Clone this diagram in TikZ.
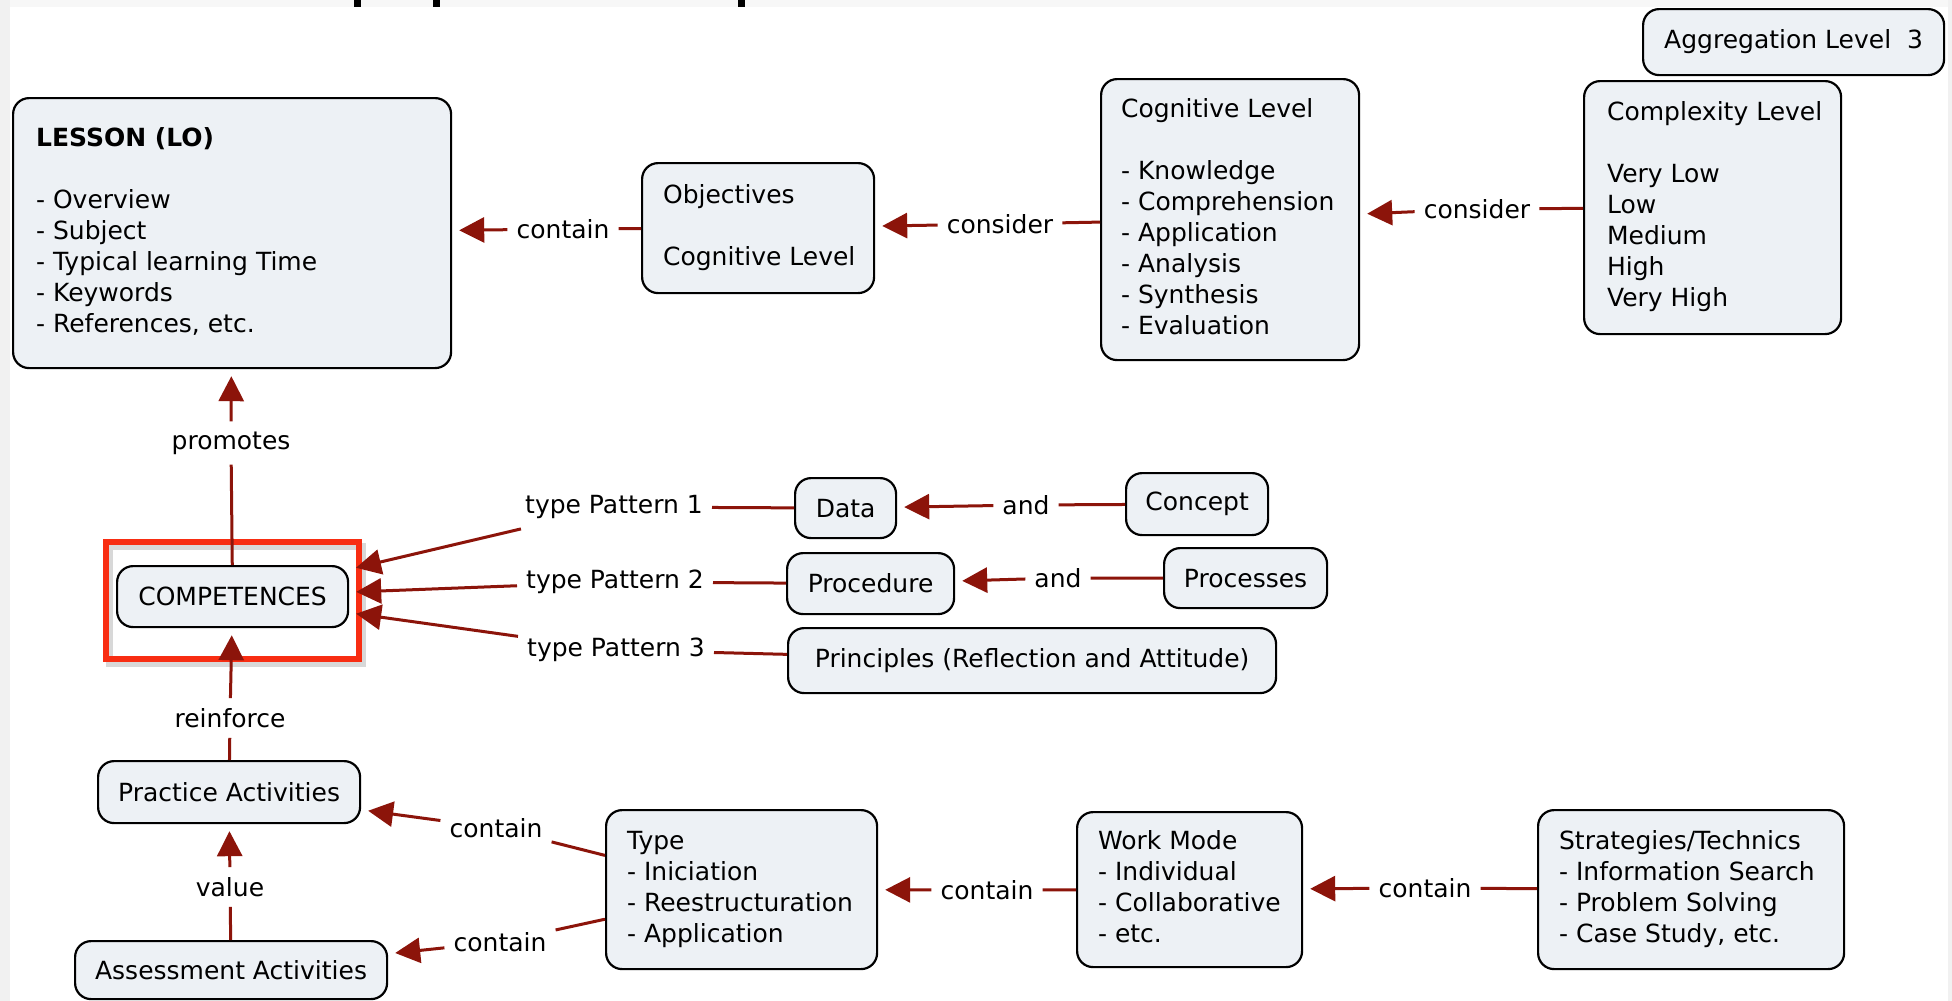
\documentclass[tikz,border=0pt]{standalone}
\usepackage{fontspec}
\setmainfont{DejaVu Sans}
\usetikzlibrary{arrows.meta}
\definecolor{boxfill}{RGB}{237,241,245}
\definecolor{linkred}{RGB}{140,20,10}
\definecolor{hilite}{RGB}{248,45,18}
\definecolor{stripgray}{RGB}{241,241,241}
\definecolor{topgray}{RGB}{247,247,247}
\newcommand{\cmaplines}[1]{\begin{tabular}{@{}l@{}}#1\end{tabular}}
\begin{document}
\begin{tikzpicture}[x=1pt,y=-1pt,
  cbox/.style={draw=black, line width=2.2pt, fill=boxfill, rounded corners=16pt,
    font=\fontsize{25}{31}\selectfont, text=black, anchor=north west, inner ysep=0pt},
  onebox/.style={cbox, inner xsep=0pt, align=center},
  listbox/.style={cbox, align=left},
  lbl/.style={font=\fontsize{25}{31}\selectfont, text=black, inner xsep=9pt, inner ysep=10pt},
  link/.style={draw=linkred, line width=3pt},
  arr/.style={link, -{Triangle[length=25pt,width=25pt]}, shorten >=7pt}
]
% page and side strips
\useasboundingbox (0,0) rectangle (1952,1001);
\fill[white] (0,0) rectangle (1952,1001);
\fill[stripgray] (0,0) rectangle (10,1001);
\fill[stripgray] (1948,0) rectangle (1952,1001);
\fill[topgray] (10,0) rectangle (1948,7);
% descenders of the heading above the page edge
\fill[black] (354,0) rectangle (361,7);
\fill[black] (433,0) rectangle (440,7);
\fill[black] (738,0) rectangle (745,7);

% concepts
\node[listbox, minimum width=438, minimum height=270, inner xsep=23pt] (lesson) at (12,97)
  {\makebox[392pt][l]{\cmaplines{\textbf{LESSON (LO)}\\ \\- Overview\\- Subject\\- Typical learning Time\\- Keywords\\- References, etc.}}};
\node[listbox, minimum width=232, minimum height=130, inner xsep=21pt] (obj) at (641,162)
  {\makebox[190pt][l]{\cmaplines{Objectives\\ \\Cognitive Level}}};
\node[listbox, minimum width=258, minimum height=281, inner xsep=20pt] (cog) at (1100,78)
  {\makebox[218pt][l]{\cmaplines{Cognitive Level\\ \\- Knowledge\\- Comprehension\\- Application\\- Analysis\\- Synthesis\\- Evaluation}}};
\node[listbox, minimum width=257, minimum height=253, inner xsep=23pt] (cx) at (1583,80)
  {\makebox[211pt][l]{\cmaplines{Complexity Level\\ \\Very Low\\Low\\Medium\\High\\Very High}}};
\node[onebox, minimum width=301, minimum height=66] (agg) at (1642,8) {Aggregation Level\ \ 3};

% highlight round the central concept
\draw[black!30, opacity=0.5, line width=7pt] (109,546) rectangle (362,663);
\draw[hilite, line width=6pt] (106,542) rectangle (359,659);
\node[onebox, minimum width=231, minimum height=61] (comp) at (116,565) {COMPETENCES};

\node[onebox, minimum width=262, minimum height=62] (prac) at (97,760) {Practice Activities};
\node[onebox, minimum width=312, minimum height=58] (assess) at (74,940) {Assessment Activities};
\node[listbox, minimum width=271, minimum height=159, inner xsep=21pt] (type) at (605,809)
  {\makebox[229pt][l]{\cmaplines{Type\\- Iniciation\\- Reestructuration\\- Application}}};
\node[listbox, minimum width=225, minimum height=155, inner xsep=21pt] (work) at (1076,811)
  {\makebox[183pt][l]{\cmaplines{Work Mode\\- Individual\\- Collaborative\\- etc.}}};
\node[listbox, minimum width=306, minimum height=159, inner xsep=21pt] (strat) at (1537,809)
  {\makebox[264pt][l]{\cmaplines{Strategies/Technics\\- Information Search\\- Problem Solving\\- Case Study, etc.}}};

\node[onebox, minimum width=101, minimum height=60] (data) at (794,477) {Data};
\node[onebox, minimum width=167, minimum height=61] (proc) at (786,552) {Procedure};
\node[onebox, minimum width=488, minimum height=65] (princ) at (787,627) {Principles (Reflection and Attitude)};
\node[onebox, minimum width=142, minimum height=62] (concept) at (1125,472) {Concept};
\node[onebox, minimum width=163, minimum height=60] (processes) at (1163,547) {Processes};

% linking phrases
\node[lbl] (lC1) at (563,229) {contain};
\node[lbl] (lCons1) at (1000,224) {consider};
\node[lbl] (lCons2) at (1477,209) {consider};
\node[lbl] (lProm) at (231,443) {promotes};
\node[lbl] (lReinf) at (230,718) {reinforce};
\node[lbl] (lValue) at (230,887) {value};
\node[lbl] (lCont2) at (496,828) {contain};
\node[lbl] (lCont3) at (500,942) {contain};
\node[lbl] (lCont4) at (987,890) {contain};
\node[lbl] (lCont5) at (1425,888) {contain};
\node[lbl] (lTP1) at (614,507) {type Pattern 1};
\node[lbl] (lTP2) at (615,582) {type Pattern 2};
\node[lbl] (lTP3) at (616,650) {type Pattern 3};
\node[lbl] (lAnd1) at (1026,505) {and};
\node[lbl] (lAnd2) at (1058,578) {and};

% propositions
\draw[link] (obj) -- (lC1);        \draw[arr] (lC1) -- (lesson);
\draw[link] (cog) -- (lCons1);     \draw[arr] (lCons1) -- (obj);
\draw[link] (cx) -- (lCons2);      \draw[arr] (lCons2) -- (cog);
\draw[link] (comp) -- (lProm);     \draw[arr] (lProm) -- (lesson);
\draw[link] (prac) -- (lReinf);    \draw[arr] (lReinf) -- (comp);
\draw[link] (assess) -- (lValue);  \draw[arr] (lValue) -- (prac);
\draw[link] (type) -- (lCont2);    \draw[arr] (lCont2) -- (prac);
\draw[link] (type) -- (lCont3);    \draw[arr] (lCont3) -- (assess);
\draw[link] (work) -- (lCont4);    \draw[arr] (lCont4) -- (type);
\draw[link] (strat) -- (lCont5);   \draw[arr] (lCont5) -- (work);
\draw[link] (data) -- (lTP1);      \draw[arr] (lTP1) -- (comp);
\draw[link] (proc) -- (lTP2);      \draw[arr] (lTP2) -- (comp);
\draw[link] (princ) -- (lTP3);     \draw[arr] (lTP3) -- (comp);
\draw[link] (concept) -- (lAnd1);  \draw[arr] (lAnd1) -- (data);
\draw[link] (processes) -- (lAnd2); \draw[arr] (lAnd2) -- (proc);
\end{tikzpicture}
\end{document}
